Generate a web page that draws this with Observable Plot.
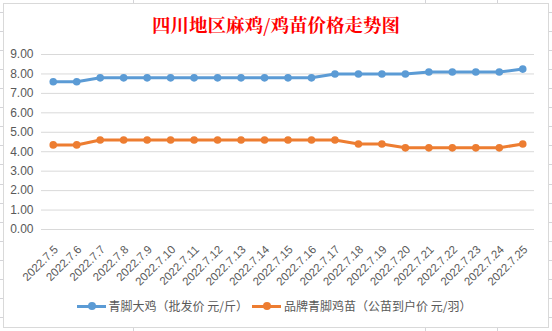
<!DOCTYPE html>
<html>
<head>
<meta charset="utf-8">
<script src="https://cdn.jsdelivr.net/npm/d3@7"></script>
<script src="https://cdn.jsdelivr.net/npm/@observablehq/plot@0.6"></script>
<style>
  html, body { margin: 0; padding: 0; background: #fff; }
  #wrap { position: relative; width: 552px; height: 331px; overflow: hidden; background: #fff; }
  .hl { position: absolute; left: 0; width: 552px; height: 1px; background: #d4d4d8; }
  .vl { position: absolute; top: 0; width: 1px; height: 331px; background: #d4d4d8; }
  #box { position: absolute; left: 3px; top: 3px; width: 546px; height: 325px; box-sizing: border-box;
         border: 1px solid #d9d9d9; background: #fff; }
  #title { position: absolute; left: 0; top: 14px; width: 552px; text-align: center;
           font-family: "Noto Serif CJK SC", "Noto Sans CJK SC", serif; font-weight: bold;
           font-size: 18.5px; line-height: 20px; color: #ff0000; }
  #chart { position: absolute; left: 0; top: 0; }
  .leg { position: absolute; top: 298px; height: 16px; font-family: "Noto Sans CJK SC", sans-serif;
         font-size: 12px; line-height: 16px; color: #595959; white-space: nowrap; }
  .sw { position: absolute; top: 306px; height: 3px; margin-top: -1.5px; }
  .sd { position: absolute; width: 8px; height: 8px; border-radius: 50%; margin-top: -4px; margin-left: -4px; top: 306px; }
</style>
</head>
<body>
<div id="wrap">
  <div id="box"></div>
  <div id="title">四川地区麻鸡/鸡苗价格走势图</div>
  <div id="chart"></div>
</div>
<script>
// ---- data ----
const dates = ["2022.7.5","2022.7.6","2022.7.7","2022.7.8","2022.7.9","2022.7.10","2022.7.11",
  "2022.7.12","2022.7.13","2022.7.14","2022.7.15","2022.7.16","2022.7.17","2022.7.18",
  "2022.7.19","2022.7.20","2022.7.21","2022.7.22","2022.7.23","2022.7.24","2022.7.25"];
const seriesNames = ["青脚大鸡（批发价 元/斤）", "品牌青脚鸡苗（公苗到户价 元/羽）"];
const bigChicken = [7.6,7.6,7.8,7.8,7.8,7.8,7.8,7.8,7.8,7.8,7.8,7.8,8.0,8.0,8.0,8.0,8.1,8.1,8.1,8.1,8.25];
const chickPrice = [4.35,4.35,4.6,4.6,4.6,4.6,4.6,4.6,4.6,4.6,4.6,4.6,4.6,4.4,4.4,4.2,4.2,4.2,4.2,4.2,4.4];
const yTicks = [0,1,2,3,4,5,6,7,8,9];
const colors = ["#5B9BD5", "#ED7D31"];

// ---- background sheet grid (decoration outside chart area) ----
const wrap = document.getElementById("wrap");
const box = document.getElementById("box");
for (let i = 0; i < 18; i++) {
  const d = document.createElement("div");
  d.className = "hl"; d.style.top = (12 + i * 19.05).toFixed(1) + "px";
  wrap.insertBefore(d, box);
}
[133, 425, 497].forEach(x => {
  const d = document.createElement("div");
  d.className = "vl"; d.style.left = x + "px";
  wrap.insertBefore(d, box);
});

// ---- table ----
const rows = [];
dates.forEach((d, i) => {
  rows.push({date: d, value: bigChicken[i], series: seriesNames[0]});
  rows.push({date: d, value: chickPrice[i], series: seriesNames[1]});
});

const chart = Plot.plot({
  width: 552,
  height: 290,
  marginLeft: 41,
  marginRight: 18,
  marginTop: 54,
  marginBottom: 61,
  style: {background: "transparent", color: "#595959", fontFamily: "'Liberation Sans', Arial, sans-serif"},
  x: {type: "point", domain: dates, padding: 0.5, round: false},
  y: {domain: [0, 9]},
  color: {domain: seriesNames, range: colors},
  marks: [
    Plot.ruleY(yTicks, {stroke: "#d9d9d9", strokeWidth: 1}),
    Plot.axisY(yTicks, {tickSize: 0, tickPadding: 8, tickFormat: d => d.toFixed(2), fontSize: 12, label: null}),
    Plot.axisX({tickSize: 0, tickPadding: 18, tickRotate: -45, fontSize: 11.5, label: null, dx: 3}),
    Plot.lineY(rows, {x: "date", y: "value", z: "series", stroke: "series", strokeWidth: 3, curve: "linear"}),
    Plot.dot(rows, {x: "date", y: "value", fill: "series", r: 3.8, stroke: "none"})
  ]
});
document.getElementById("chart").appendChild(chart);

// ---- legend ----
const legItems = [
  {name: seriesNames[0], color: colors[0], x1: 77, x2: 106, text: 108.5},
  {name: seriesNames[1], color: colors[1], x1: 252, x2: 281, text: 284}
];
legItems.forEach(it => {
  const ln = document.createElement("div");
  ln.className = "sw"; ln.style.left = it.x1 + "px"; ln.style.width = (it.x2 - it.x1) + "px"; ln.style.background = it.color;
  wrap.appendChild(ln);
  const dt = document.createElement("div");
  dt.className = "sd"; dt.style.left = ((it.x1 + it.x2) / 2) + "px"; dt.style.background = it.color;
  wrap.appendChild(dt);
  const tx = document.createElement("div");
  tx.className = "leg"; tx.style.left = it.text + "px"; tx.textContent = it.name;
  wrap.appendChild(tx);
});
</script>
</body>
</html>
